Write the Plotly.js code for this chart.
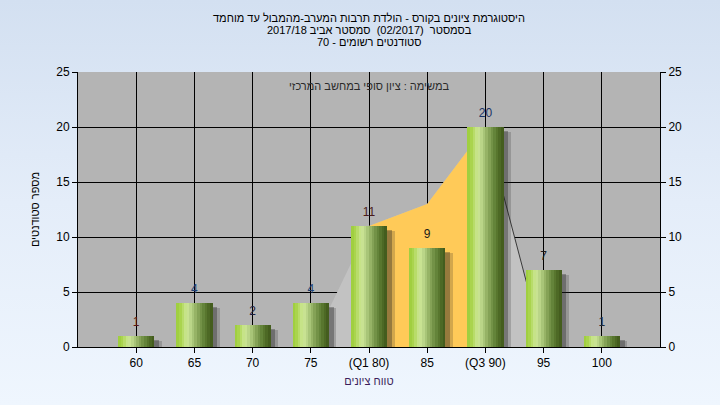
<!DOCTYPE html>
<html>
<head>
<meta charset="utf-8">
<script src="https://cdn.plot.ly/plotly-3.0.1.min.js"></script>
<style>
html,body{margin:0;padding:0;}
body{width:720px;height:405px;background:linear-gradient(to bottom,#d3e0f1 0%,#e4edf9 50%,#eff6fe 100%);}
#chart{width:720px;height:405px;}
</style>
</head>
<body>
<div id="chart"></div>
<script>
// ---- data ----
const categories = ["60","65","70","75","(Q1 80)","85","(Q3 90)","95","100"];
const counts = [1,4,2,4,11,9,20,7,1];
const spreadX = ["75","(Q1 80)","85","(Q3 90)","95"];
const spreadY = [0,11,13,20,0];
const quartileX = ["(Q1 80)","(Q1 80)","85","(Q3 90)","(Q3 90)"];
const quartileY = [0,11,13,20,0];
const tailX = ["(Q3 90)","95"];
const tailY = [20,0];
const yTicks = [0,5,10,15,20,25];
const titleLines = [
  "היסטוגרמת ציונים בקורס - הולדת תרבות המערב-מהמבול עד מוחמד",
  "בסמסטר  (02/2017)  סמסטר אביב 2017/18",
  "סטודנטים רשומים - 70"
];
const noteText = "במשימה : ציון סופי במחשב המרכזי";
const xTitle = "טווח ציונים";
const yTitle = "מספר סטודנטים";

// ---- styles ----
const FONT = "Liberation Sans, Arial, sans-serif";
const barW = 0.62;
const stripeColors = ["#a0cf40","#aad44e","#b8dc6a","#c6e388","#c8e292","#bad588","#a8c578","#96b366","#84a256","#739247","#64843a","#58762e","#4d6925","#445d1e"];
const labelColors = ["#5a1616","#1e3f72","#1c1c3c","#1e3f72","#4a1a1a","#1a1a1a","#1a3366","#1a1a1a","#222a38"];

const traces = [];
// light gray spread area (main subplot, below bars)
traces.push({type:"scatter",x:spreadX,y:spreadY,fill:"toself",fillcolor:"#c2c2c2",mode:"lines",line:{width:0,color:"#c2c2c2"},hoverinfo:"skip",showlegend:false});
// orange inter-quartile area
traces.push({type:"scatter",x:quartileX,y:quartileY,fill:"toself",fillcolor:"#ffca58",mode:"lines",line:{width:0,color:"#ffca58"},hoverinfo:"skip",showlegend:false});
// dark tail line
traces.push({type:"scatter",x:tailX,y:tailY,mode:"lines",line:{width:1,color:"#3a3a3a"},hoverinfo:"skip",showlegend:false});
// right axis anchor
traces.push({type:"scatter",x:categories,y:counts,yaxis:"y2",mode:"markers",marker:{opacity:0},hoverinfo:"skip",showlegend:false});
// shadows (overlay subplot, above areas)
traces.push({type:"bar",xaxis:"x2",yaxis:"y3",x:categories,y:counts.map(v=>v-0.45),width:barW,offset:-barW/2+0.13,marker:{color:"rgba(30,30,30,0.2)",line:{width:0}},hoverinfo:"skip",showlegend:false});
traces.push({type:"bar",xaxis:"x2",yaxis:"y3",x:categories,y:counts.map(v=>v-0.35),width:barW,offset:-barW/2+0.08,marker:{color:"rgba(30,30,30,0.33)",line:{width:0}},hoverinfo:"skip",showlegend:false});
// gradient bar stripes
const n = stripeColors.length;
stripeColors.forEach((c,i)=>{
  traces.push({type:"bar",xaxis:"x2",yaxis:"y3",x:categories,y:counts,width:barW/n+0.003,offset:-barW/2+i*barW/n,marker:{color:c,line:{width:0}},hoverinfo:"skip",showlegend:false});
});
// value labels (invisible marker lifts the text a little above the bar top)
traces.push({type:"scatter",xaxis:"x2",yaxis:"y3",x:categories,y:counts,mode:"markers+text",marker:{size:9,opacity:0},text:counts.map(String),textposition:"top center",textfont:{family:FONT,size:12,color:labelColors},hoverinfo:"skip",showlegend:false});

const annotations = titleLines.map((t,i)=>({
  text:t,xref:"paper",yref:"paper",x:0.5,y:1,yanchor:"middle",xanchor:"center",
  yshift:(72-18-12*i),showarrow:false,font:{family:FONT,size:11,color:"#000"}
}));
annotations.push({text:noteText,xref:"paper",yref:"paper",x:0.5,y:1,yanchor:"middle",xanchor:"center",xshift:0,yshift:-14,showarrow:false,font:{family:FONT,size:11,color:"#2a2a2a"}});

const tickFont = {family:FONT,size:12,color:"#000"};
const layout = {
  width:720,height:405,
  margin:{l:78,r:60,t:72,b:58},
  paper_bgcolor:"rgba(0,0,0,0)",
  plot_bgcolor:"#b4b4b4",
  barmode:"overlay",
  bargap:0,
  showlegend:false,
  font:{family:FONT,size:12,color:"#000"},
  xaxis:{type:"category",categoryorder:"array",categoryarray:categories,range:[-1,9],
    showgrid:true,gridcolor:"#000",gridwidth:1,showline:true,linecolor:"#000",linewidth:1,
    ticks:"outside",ticklen:5,tickcolor:"#000",tickfont:tickFont,
    title:{text:xTitle,font:{family:FONT,size:11,color:"#3c1e5a"},standoff:7},zeroline:false,fixedrange:true},
  xaxis2:{type:"category",categoryorder:"array",categoryarray:categories,range:[-1,9],overlaying:"x",
    showgrid:false,showline:false,ticks:"",showticklabels:false,zeroline:false,fixedrange:true},
  yaxis:{range:[0,25],tickvals:yTicks,showgrid:true,gridcolor:"#000",gridwidth:1,showline:true,linecolor:"#000",linewidth:1,
    ticks:"outside",ticklen:5,tickcolor:"#000",tickfont:tickFont,zeroline:false,
    title:{text:yTitle,font:{family:FONT,size:11,color:"#000"},standoff:14},fixedrange:true},
  yaxis2:{range:[0,25],tickvals:yTicks,overlaying:"y",side:"right",showgrid:false,showline:true,linecolor:"#000",linewidth:1,
    ticks:"outside",ticklen:5,tickcolor:"#000",tickfont:tickFont,zeroline:false,fixedrange:true},
  yaxis3:{range:[0,25],overlaying:"y",anchor:"x2",showgrid:false,showline:false,ticks:"",showticklabels:false,zeroline:false,fixedrange:true},
  annotations:annotations
};

Plotly.newPlot("chart",traces,layout,{displayModeBar:false,staticPlot:true});
</script>
</body>
</html>
